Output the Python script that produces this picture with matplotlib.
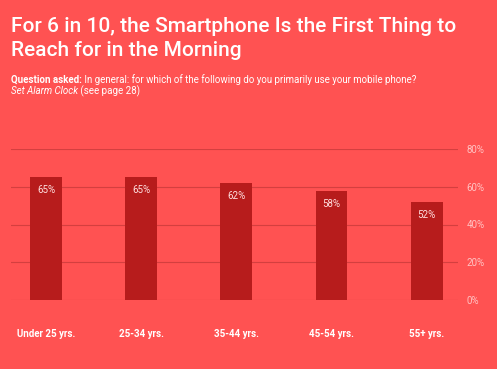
import matplotlib.pyplot as plt
import numpy as np

groups = ['Under 25 yrs.', '25-34 yrs.', '35-44 yrs.', '45-54 yrs.', '55+ yrs.']
share = [65, 65, 62, 58, 52]
yticks = [0, 20, 40, 60, 80]

bg = '#FF5252'
bar_col = '#B71C1C'
grid_col = '#D43F3F'

plt.rcParams['font.family'] = ['Roboto', 'DejaVu Sans']

fig = plt.figure(figsize=(4.97, 3.69), dpi=100, facecolor=bg)
ax = fig.add_axes([11 / 497, 1 - 300 / 369, 447 / 497, 151 / 369])
ax.set_facecolor(bg)

x = np.arange(len(groups))
bars = ax.bar(x, share, width=0.336, color=bar_col, zorder=3)
for b, v in zip(bars, share):
    ax.text(b.get_x() + b.get_width() / 2, v - 6.9, f'{v}%', ha='center', va='center',
            color='#FFE0E0', fontsize=7, zorder=4)

ax.set_xlim(-0.37, 4.33)
ax.set_ylim(0, 80)
ax.set_yticks(yticks)
ax.set_yticklabels([f'{t}%' for t in yticks])
ax.yaxis.tick_right()
ax.tick_params(axis='y', length=0, pad=6, labelcolor='#FFC2C2', labelsize=7)
ax.set_xticks(x)
ax.set_xticklabels(groups, fontweight='bold', color='white', fontsize=7)
ax.tick_params(axis='x', length=0, pad=21)
ax.grid(axis='y', color=grid_col, linewidth=0.8, zorder=0)
for s in ax.spines.values():
    s.set_visible(False)

fig.text(11 / 497, 1 - 26 / 369, 'For 6 in 10, the Smartphone Is the First Thing to',
         color='white', fontsize=15, fontweight='medium', va='center')
fig.text(11 / 497, 1 - 51 / 369, 'Reach for in the Morning',
         color='white', fontsize=15, fontweight='medium', va='center')

# subtitle pieces chained one after another
q = fig.text(11 / 497, 1 - 80 / 369, 'Question asked:', color='white', fontsize=7,
             fontweight='bold', va='center')
ax.annotate(' In general: for which of the following do you primarily use your mobile phone?',
            xy=(1, 0.5), xycoords=q, va='center', color='white', fontsize=7)
s = fig.text(11 / 497, 1 - 91 / 369, 'Set Alarm Clock', color='white', fontsize=7,
             style='italic', va='center')
ax.annotate(' (see page 28)', xy=(1, 0.5), xycoords=s, va='center', color='white', fontsize=7)

fig.savefig('out.png', dpi=100, facecolor=bg)
